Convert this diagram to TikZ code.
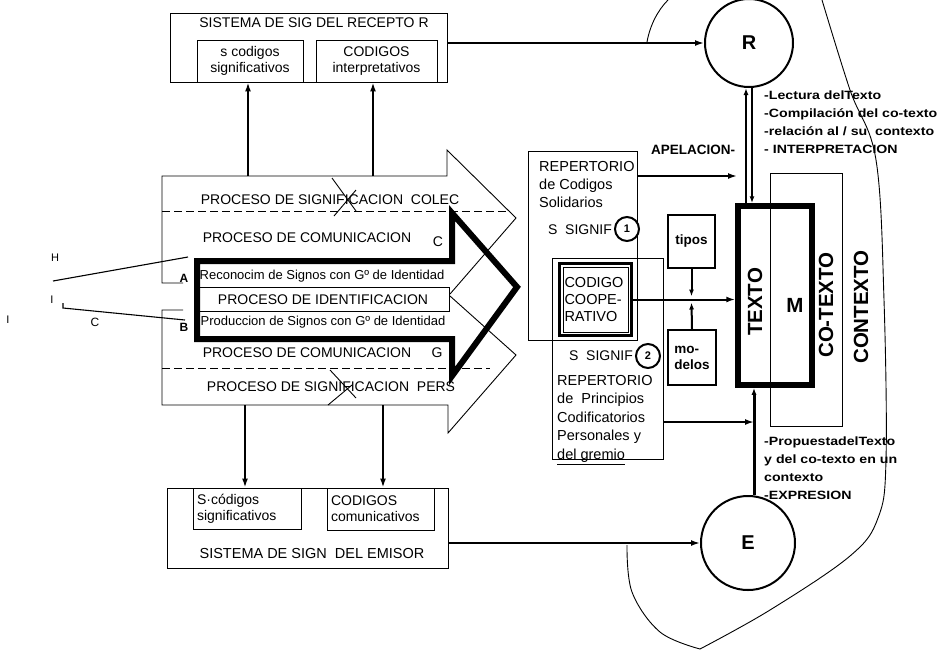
\documentclass[tikz,border=0pt]{standalone}
\usepackage{fontspec}
\setmainfont{Liberation Sans}
\newfontfamily\widesans[FakeStretch=1.18]{Liberation Sans}
\usetikzlibrary{arrows.meta}
\begin{document}
\begin{tikzpicture}[x=1pt,y=-1pt,
  box/.style={draw, line width=0.9pt, inner sep=0pt},
  ptxt/.style={inner sep=0pt, font=\fontsize{14}{16}\selectfont},
  stxt/.style={inner sep=0pt, font=\fontsize{13}{16}\selectfont},
  btxt/.style={inner sep=0pt, font=\bfseries\fontsize{13.5}{16}\selectfont},
  big/.style={inner sep=0pt, font=\bfseries\fontsize{20.5}{20}\selectfont},
  arr/.style={-{Latex[length=9pt,width=6pt]}, line width=1.7pt},
  sarr/.style={-{Latex[length=7pt,width=5pt]}, line width=1.6pt},
  outl/.style={line width=0.9pt, line join=miter},
  dsh/.style={line width=0.8pt, dash pattern=on 8pt off 4pt},
  circ/.style={circle, draw, line width=2pt, inner sep=0pt},
  rlab/.style={anchor=north west, align=left, inner sep=0pt, font=\widesans\bfseries\fontsize{12}{17.8}\selectfont}]
\useasboundingbox (0,0) rectangle (945,649);

% ---------- receptor system ----------
\node[box, minimum width=277pt, minimum height=69pt] (recep) at (308.5,47.5) {};
\node[ptxt] (recept) at (314,23) {SISTEMA DE SIG DEL RECEPTO R};
\node[box, ptxt, minimum width=106pt, minimum height=42pt, align=center] (rsig) at (250,61) {s codigos\\significativos};
\node[box, ptxt, minimum width=121pt, minimum height=42pt, align=center] (rint) at (376.5,61) {CODIGOS\\interpretativos};

% ---------- upper thin process arrow ----------
\draw[outl] (183,283) -- (162,283) -- (162,176) -- (447,176) -- (447,150) -- (516,218) -- (450,294);
\draw[dsh] (162,211) -- (507,211);
\node[ptxt] (colec) at (330,200) {PROCESO DE SIGNIFICACION\ \ COLEC};
\node[ptxt] (comc) at (307,238) {PROCESO DE COMUNICACION};
\node[ptxt] (comcC) at (438,242) {C};
\draw[line width=0.9pt] (332,178) -- (356,211);
\draw[line width=0.9pt] (334,216) -- (356,190);

% ---------- lower thin process arrow ----------
\draw[outl] (450,296) -- (516,355) -- (448,433) -- (448,405) -- (162,405) -- (162,310) -- (183,310);
\draw[dsh] (162,368) -- (490,368);
\node[ptxt] (comg) at (307,353) {PROCESO DE COMUNICACION};
\node[ptxt] (comgG) at (437,353) {G};
\node[ptxt] (pers) at (331,387) {PROCESO DE SIGNIFICACION\ \ PERS};
\draw[line width=0.9pt] (330,370) -- (356,398);
\draw[line width=0.9pt] (328,405) -- (352,385);

% ---------- thick identification arrow ----------
\draw[line width=6pt, line join=miter] (197,261) -- (452,261) -- (452,213) -- (517,287) -- (452,376) -- (452,339) -- (197,339) -- cycle;
\node[stxt] (recon) at (322,276) {Reconocim de Signos con Gº de Identidad};
\node[box, ptxt, minimum width=252pt, minimum height=24pt] (ident) at (323,299.5) {PROCESO DE IDENTIFICACION};
\node[stxt] (prod) at (323,322) {Produccion de Signos con Gº de Identidad};
\node[inner sep=0pt, font=\bfseries\fontsize{12}{14}\selectfont] (A) at (184,278) {A};
\node[inner sep=0pt, font=\bfseries\fontsize{12}{14}\selectfont] (B) at (184,327) {B};

% left marks
\node[inner sep=0pt, font=\fontsize{11}{13}\selectfont] (H) at (55,258) {H};
\node[inner sep=0pt, font=\fontsize{11}{13}\selectfont] (I1) at (52,300) {I};
\node[inner sep=0pt, font=\fontsize{11}{13}\selectfont] (I2) at (8,320) {I};
\node[inner sep=0pt, font=\fontsize{12}{13}\selectfont] (C) at (95,322) {C};
\coordinate (hl) at (53,281);
\coordinate (hr) at (188,257);
\draw[line width=1.1pt] (hl) -- (hr);
\coordinate (il) at (63,308);
\coordinate (ir) at (185,320);
\draw[line width=1.1pt] (63,303) -- (il) -- (ir);

% connectors to the systems
\coordinate (u1) at (248,176);
\coordinate (u2) at (373,176);
\draw[arr] (u1) -- (u1 |- rsig.south);
\draw[arr] (u2) -- (u2 |- rint.south);

% ---------- emisor system ----------
\node[box, minimum width=281pt, minimum height=80pt] (emisor) at (307.5,528) {};
\node[box, ptxt, minimum width=108pt, minimum height=41pt, text width=100pt, inner xsep=4pt, align=left] (esig) at (247,508.5) {S·códigos\\significativos};
\node[box, ptxt, minimum width=107pt, minimum height=42pt, text width=99pt, inner xsep=4pt, align=left] (ecom) at (380.5,509) {CODIGOS\\comunicativos};
\node[ptxt, font=\fontsize{14.5}{16}\selectfont] (emisort) at (312,553) {SISTEMA DE SIGN\ \ DEL EMISOR};
\coordinate (d1) at (245,405);
\coordinate (d2) at (383,405);
\draw[arr] (d1) -- (d1 |- esig.north);
\draw[arr] (d2) -- (d2 |- ecom.north);

% ---------- R and E ----------
\node[circ, minimum size=88pt, font=\bfseries\fontsize{20}{20}\selectfont] (R) at (749,43) {R};
\node[circ, minimum size=94pt, font=\bfseries\fontsize{20}{20}\selectfont] (E) at (748,543) {E};
\draw[arr] (recep.east |- R.west) -- (R.west);
\draw[arr] (emisor.east |- E.west) -- (E.west);

% ---------- repertorio 1 ----------
\node[box, minimum width=109pt, minimum height=189pt] (rep1) at (582.5,245.5) {};
\node[ptxt, font=\fontsize{14.5}{18}\selectfont, anchor=north west, align=left] (rep1t) at (539,161) {REPERTORIO\\de Codigos\\Solidarios};
\node[ptxt] (ss1) at (580,230) {S\ \ SIGNIF};
\node[circ, minimum size=24pt, fill=white, font=\bfseries\fontsize{11}{11}\selectfont] (c1) at (627,229) {1};
\node[btxt] (apel) at (693,150) {APELACION-};
\coordinate (apelend) at (737,176);
\draw[arr] (rep1.east |- apelend) -- (apelend);

% ---------- repertorio 2 ----------
\node[box, minimum width=111pt, minimum height=201pt] (rep2) at (607.5,358.5) {};
\node[ptxt] (ss2) at (601,356) {S\ \ SIGNIF};
\node[circ, minimum size=24pt, fill=white, font=\bfseries\fontsize{11}{11}\selectfont] (c2) at (648,356) {2};
\node[ptxt, font=\fontsize{14.5}{18.5}\selectfont, anchor=north west, align=left] (rep2t) at (557,375) {REPERTORIO\\de\ \ Principios\\Codificatorios\\Personales y\\\underline{del gremio}};

% ---------- codigo cooperativo ----------
\node[draw, line width=3pt, minimum width=72pt, minimum height=72pt, text width=62pt, inner xsep=4pt, align=left, inner ysep=0pt, font=\fontsize{14.5}{17}\selectfont, fill=white] (coop) at (595.5,299.5) {CODIGO\\COOPE-\\RATIVO};
\draw[line width=0.9pt] ([shift={(5,5)}]coop.north west) rectangle ([shift={(-5,-5)}]coop.south east);

% ---------- tipos / modelos ----------
\node[draw, line width=2pt, minimum width=47pt, minimum height=53pt, inner sep=0pt, font=\bfseries\fontsize{13.5}{15}\selectfont] (tipos) at (691.5,241.5) {tipos};
\node[draw, line width=2pt, minimum width=48pt, minimum height=55pt, inner sep=0pt, align=left, font=\bfseries\fontsize{13.5}{16}\selectfont] (modelos) at (692,357.5) {mo-\\delos};

% ---------- texto / co-texto ----------
\node[box, minimum width=72pt, minimum height=253pt] (cotexto) at (806,299.5) {};
\node[draw, line width=5.5pt, minimum width=74pt, minimum height=179pt, inner sep=0pt] (texto) at (775,295.5) {};
\node[big, rotate=90] (textol) at (755,302) {TEXTO};
\node[big] (M) at (795,305) {M};
\node[big, rotate=90] (cotextol) at (826,305) {CO-TEXTO};
\node[big, rotate=90] (contextol) at (861,307) {CONTEXTO};

\draw[arr, line width=2pt] (coop.east) -- (coop.east -| texto.west);
\coordinate (tm) at (691.5,299.5);
\draw[sarr, line width=2pt] (tipos.south) -- ([yshift=3pt]tm);
\draw[sarr, line width=2pt] (modelos.north) -- ([yshift=-3pt]tm);

\coordinate (rl) at ([xshift=-3pt]R.south);
\coordinate (rr) at ([xshift=3pt]R.south);
\draw[sarr] (rl |- texto.north) -- (rl);
\draw[sarr] (rr) -- (rr |- texto.north);

\coordinate (et) at ([xshift=6pt]E.north);
\draw[sarr, line width=3pt] (et) -- (et |- texto.south);
\coordinate (ej) at (754,422);
\draw[arr, line width=2pt] (rep2.east |- ej) -- (ej);

% ---------- labels ----------
\node[rlab] (lect) at (764,91) {-Lectura delTexto\\-Compilación del co-texto\\-relación al / su\ \ contexto\\- INTERPRETACION};
\node[rlab] (prop) at (764,437) {-PropuestadelTexto\\y del co-texto en un\\contexto\\-EXPRESION};

% ---------- context boundary ----------
\draw[line width=0.9pt] (647,42) .. controls (650,25) and (658,10) .. (668,0);
\draw[line width=0.9pt] plot[smooth, tension=0.6] coordinates {(822,0) (850,90) (876,160) (884,300) (886,460) (878,518) (850,556) (770,610) (700,649)};
\draw[line width=0.9pt] plot[smooth, tension=0.6] coordinates {(627,545) (632,592) (660,632) (700,649)};
\end{tikzpicture}
\end{document}
